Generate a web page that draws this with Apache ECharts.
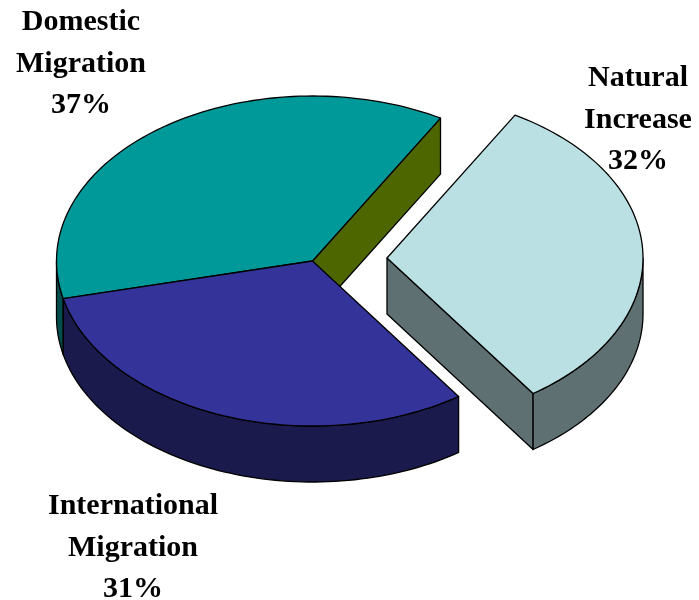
<!DOCTYPE html>
<html>
<head>
<meta charset="utf-8">
<style>html,body{margin:0;padding:0;background:#fff}#chart{width:699px;height:600px}</style>
<script src="https://cdn.jsdelivr.net/npm/echarts@6/dist/echarts.min.js"></script>
</head>
<body>
<div id="chart"></div>
<script>
// Data, in draw order (back to front), clockwise from the Domestic/International boundary
var categories = ['Domestic\nMigration', 'Natural\nIncrease', 'International\nMigration'];
var shares = [37, 32, 31];

// Colours per slice
var topColors = ['#009999', '#BBE0E3', '#333399'];
var wallColors = ['#004D4D', '#5E7071', '#1A1A4D'];
var cutColors = ['#4D6600', '#5E7071', '#1A1A4D'];

// Layout constants
var PIE = {cx: 312.5, cy: 261, rx: 256, ry: 165, depth: 56, firstAngle: -103.2};
var explodeOffset = [[0, 0], [74.5, -3], [0, 0]];
var labelCenters = [[81, 64], [638, 120], [133, 548]];

function pt(cx, cy, deg, dy) {
  var a = deg * Math.PI / 180;
  return [cx + PIE.rx * Math.sin(a), cy - PIE.ry * Math.cos(a) + (dy || 0)];
}
function arc(cx, cy, from, to, dy) {
  var n = Math.max(2, Math.ceil(Math.abs(to - from) / 1.5)), out = [];
  for (var i = 0; i <= n; i++) out.push(pt(cx, cy, from + (to - from) * i / n, dy));
  return out;
}
function poly(points, fill, z2) {
  return {type: 'polygon', shape: {points: points}, z2: z2,
    style: {fill: fill, stroke: '#000', lineWidth: 1.3, lineJoin: 'round'}};
}
var total = shares.reduce(function (a, b) { return a + b; }, 0);

function renderSlice(params, api) {
  var i = api.value(0), value = api.value(1), before = 0;
  for (var k = 0; k < i; k++) before += shares[k];
  var a0 = PIE.firstAngle + before / total * 360;
  var a1 = a0 + value / total * 360;
  var cx = PIE.cx + explodeOffset[i][0], cy = PIE.cy + explodeOffset[i][1];
  var d = PIE.depth, children = [];

  // Cut face at the clockwise end, visible only when it faces the viewer
  var visibleEnd = ((a1 % 360) + 360) % 360;
  if (visibleEnd < 180) {
    var e = pt(cx, cy, a1);
    children.push(poly([[cx, cy], e, [e[0], e[1] + d], [cx, cy + d]], cutColors[i], 1));
  }
  // Outer wall: the part of the rim that faces the viewer
  [[-270, -90], [90, 270]].forEach(function (win) {
    var f = Math.max(a0, win[0]), t = Math.min(a1, win[1]);
    if (f < t) {
      children.push(poly(arc(cx, cy, f, t).concat(arc(cx, cy, t, f, d)), wallColors[i], 2));
    }
  });
  // Top face
  children.push(poly([[cx, cy]].concat(arc(cx, cy, a0, a1)), topColors[i], 3));
  // Label
  children.push({
    type: 'text', z2: 10,
    style: {
      x: labelCenters[i][0], y: labelCenters[i][1],
      text: categories[i] + '\n' + value + '%',
      fill: '#000', align: 'center', verticalAlign: 'middle',
      font: 'bold 30px "Liberation Serif", serif', lineHeight: 41.5
    }
  });
  return {type: 'group', children: children};
}

var chart = echarts.init(document.getElementById('chart'), null, {renderer: 'canvas'});
chart.setOption({
  animation: false,
  backgroundColor: '#fff',
  series: [{
    type: 'custom',
    coordinateSystem: 'none',
    renderItem: renderSlice,
    data: shares.map(function (v, i) { return [i, v]; })
  }]
});
</script>
</body>
</html>
